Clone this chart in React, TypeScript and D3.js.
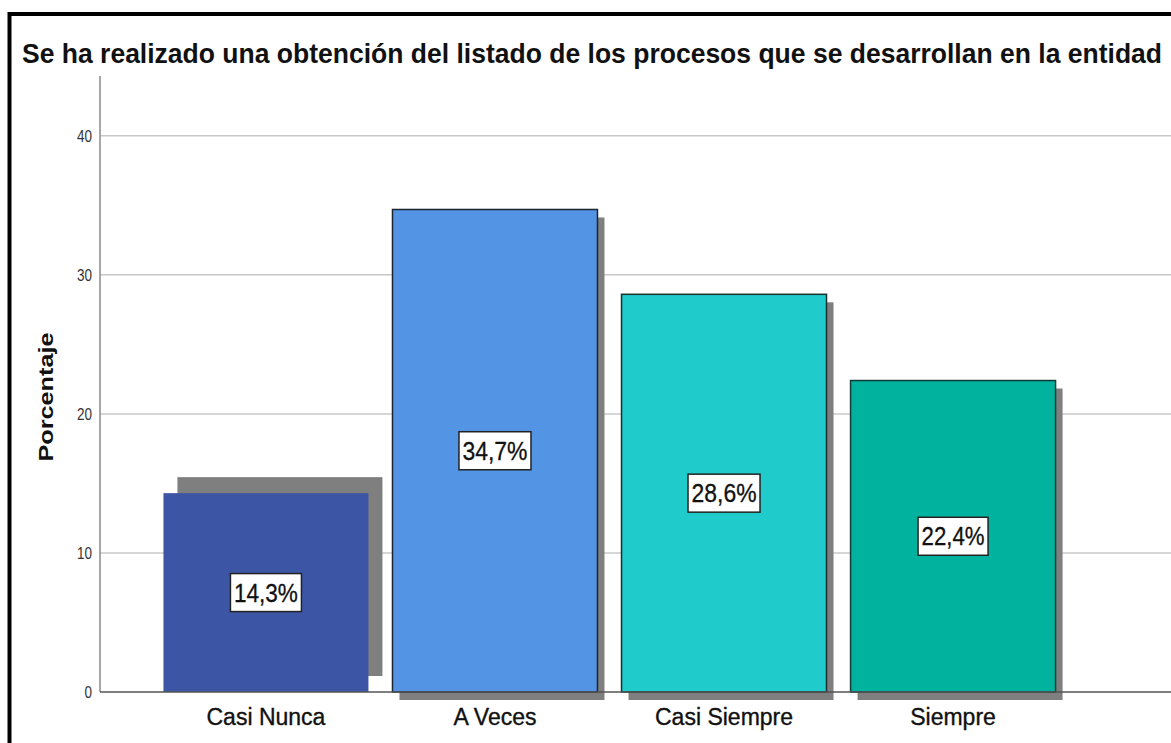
import React from "react";
import * as d3 from "d3";

const categories = ["Casi Nunca", "A Veces", "Casi Siempre", "Siempre"];
const values = [14.3, 34.7, 28.6, 22.4];
const valueLabels = ["14,3%", "34,7%", "28,6%", "22,4%"];
const yTicks = [0, 10, 20, 30, 40];
const title = "Se ha realizado una obtención del listado de los procesos que se desarrollan en la entidad";
const yTitle = "Porcentaje";

const barColors = ["#3c56a5", "#5494e4", "#1fcccb", "#01b29f"];
const barStroke = ["none", "#1c2430", "#1c2f2f", "#123a36"];
const shadowDx = [14, 7, 7, 7];
const shadowDy = [-16, 8, 8, 8];

const W = 1171;
const H = 743;
const FONT = "'Liberation Sans', Arial, sans-serif";

export default function App() {
  const x = d3.scaleBand<string>().domain(categories).range([100, 1119]).paddingInner(0.105).paddingOuter(0.277);
  const y = d3.scaleLinear().domain([0, 44.3]).range([692, 76]);
  const labelWidths = [71, 72, 72, 70];

  return (
    <svg width={W} height={H} style={{ position: "absolute", left: 0, top: 0, background: "#fff" }}>
      <rect x={0} y={0} width={W} height={H} fill="#fff" />
      {/* frame */}
      <rect x={9.5} y={14} width={1300} height={900} fill="none" stroke="#000" strokeWidth={4} />
      {/* title */}
      <text
        transform="translate(22,63) scale(1,1.1)"
        x={0}
        y={0}
        fontFamily={FONT}
        fontWeight="bold"
        fontSize={25}
        fill="#111"
        textLength={1140}
        lengthAdjust="spacingAndGlyphs"
      >
        {title}
      </text>
      {/* grid */}
      {yTicks.filter((t) => t > 0).map((t) => (
        <line key={t} x1={100} x2={W} y1={y(t)} y2={y(t)} stroke="#c8c8c8" strokeWidth={1.5} />
      ))}
      {/* y axis */}
      <line x1={100} x2={100} y1={y(44.3)} y2={y(0)} stroke="#8a8a8a" strokeWidth={1.5} />
      {yTicks.map((t) => (
        <text
          key={t}
          x={92}
          y={y(t) + 6}
          textAnchor="end"
          fontFamily={FONT}
          fontSize={16}
          fill="#333"
          textLength={String(t).length * 7.5}
          lengthAdjust="spacingAndGlyphs"
        >
          {t}
        </text>
      ))}
      <text
        transform={`translate(53,${397}) rotate(-90)`}
        textAnchor="middle"
        fontFamily={FONT}
        fontWeight="bold"
        fontSize={20}
        fill="#111"
        textLength={129}
        lengthAdjust="spacingAndGlyphs"
      >
        {yTitle}
      </text>
      {/* bars */}
      {categories.map((c, i) => {
        const bx = x(c)!;
        const bw = x.bandwidth();
        const top = y(values[i]);
        const h = y(0) - top;
        return (
          <g key={c}>
            <rect x={bx + shadowDx[i]} y={top + shadowDy[i]} width={bw} height={h} fill="#7f7f7f" />
            <rect
              x={bx}
              y={top}
              width={bw}
              height={h}
              fill={barColors[i]}
              stroke={barStroke[i]}
              strokeWidth={barStroke[i] === "none" ? 0 : 1.5}
            />
          </g>
        );
      })}
      {/* x axis */}
      <line x1={100} x2={W} y1={y(0)} y2={y(0)} stroke="#555" strokeWidth={1.5} />
      {/* value labels */}
      {categories.map((c, i) => {
        const cx = x(c)! + x.bandwidth() / 2;
        const cy = y(values[i] / 2);
        const lw = labelWidths[i];
        return (
          <g key={c + "l"}>
            <rect x={cx - lw / 2} y={cy - 19} width={lw} height={38} fill="#fff" stroke="#222" strokeWidth={1.5} />
            <text
              x={cx}
              y={cy + 9}
              textAnchor="middle"
              fontFamily={FONT}
              fontSize={25}
              fill="#111"
              stroke="#111"
              strokeWidth={0.3}
              textLength={lw - 7}
              lengthAdjust="spacingAndGlyphs"
            >
              {valueLabels[i]}
            </text>
          </g>
        );
      })}
      {/* category labels */}
      {categories.map((c, i) => (
        <text
          key={c + "x"}
          x={x(c)! + x.bandwidth() / 2}
          y={725}
          textAnchor="middle"
          fontFamily={FONT}
          fontSize={23}
          fill="#111"
          stroke="#111"
          strokeWidth={0.35}
        >
          {c}
        </text>
      ))}
    </svg>
  );
}
